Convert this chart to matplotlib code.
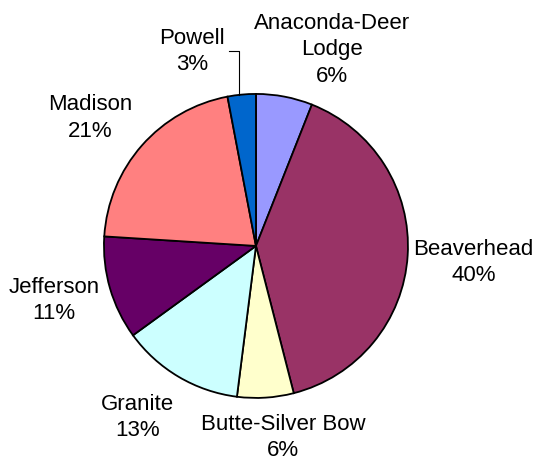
import numpy as np
import matplotlib
matplotlib.use('Agg')
import matplotlib.pyplot as plt

# Shares by county
counties = ['Anaconda-Deer\nLodge', 'Beaverhead', 'Butte-Silver Bow', 'Granite',
            'Jefferson', 'Madison', 'Powell']
shares = [6, 40, 6, 13, 11, 21, 3]
colors = ['#9999FF', '#993366', '#FFFFCC', '#CCFFFF', '#660066', '#FF8080', '#0066CC']

# Label centres (data units, pie radius = 1)
label_pos = [(0.50, 1.29), (1.43, -0.11), (0.18, -1.26), (-0.78, -1.13),
             (-1.33, -0.36), (-1.09, 0.84), (-0.42, 1.28)]

plt.rcParams['font.family'] = ['Liberation Sans', 'DejaVu Sans']

fig = plt.figure(figsize=(5.37, 4.63), dpi=100)
ax = fig.add_axes([0, 0, 1, 1])
wedges, _ = ax.pie(shares, colors=colors, startangle=90, counterclock=False,
                   wedgeprops=dict(edgecolor='black', linewidth=1.3))

for name, val, (x, y) in zip(counties, shares, label_pos):
    ax.text(x, y, f"{name}\n{val}%", ha='center', va='center',
            fontsize=16, linespacing=1.35)

# Leader line for the small Powell slice
w = wedges[-1]
mid = np.deg2rad((w.theta1 + w.theta2) / 2)
ex, ey = np.cos(mid), np.sin(mid)
ax.plot([ex - 0.02, ex - 0.02, ex - 0.08], [ey, 1.28, 1.28], color='black', lw=0.8)

ax.set_xlim(-1.684, 1.849)
ax.set_ylim(-1.428, 1.618)
ax.set_aspect('equal')
ax.axis('off')
fig.savefig('out.png', dpi=100)
